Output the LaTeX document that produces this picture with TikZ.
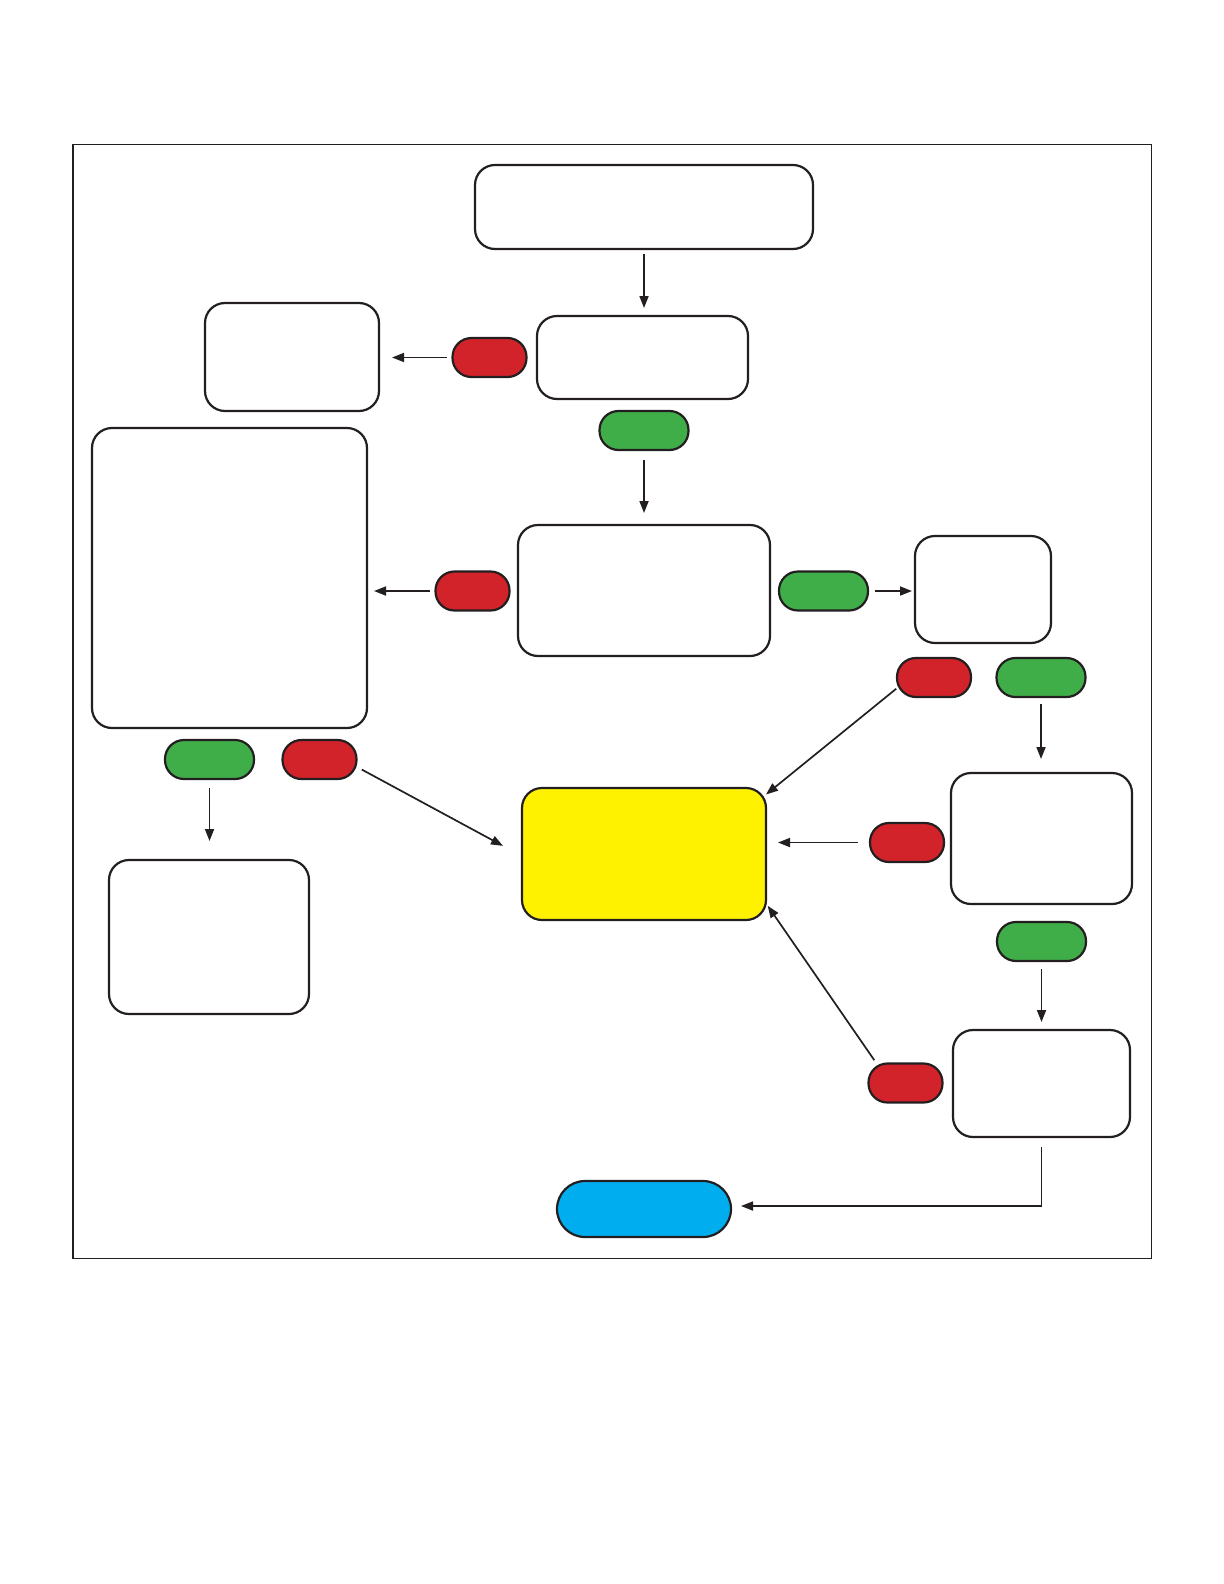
\documentclass[tikz,border=0pt]{standalone}
\usetikzlibrary{arrows.meta}
\definecolor{ink}{HTML}{231F20}
\definecolor{pred}{HTML}{D2232A}
\definecolor{pgreen}{HTML}{3FAE49}
\definecolor{pyellow}{HTML}{FFF200}
\definecolor{pblue}{HTML}{00AEEF}
\tikzset{
  base/.style={draw=ink, line width=1.1pt, inner sep=0pt, outer sep=0pt},
  box/.style={base, fill=white, rounded corners=10pt},
  pill/.style={base, rounded corners=9.5pt, minimum height=19.5pt},
  nopill/.style={pill, fill=pred, minimum width=37pt},
  yespill/.style={pill, fill=pgreen, minimum width=44.5pt},
  arr/.style={draw=ink, line width=0.85pt, -{Triangle[length=6pt,width=4.5pt]}},
}
\begin{document}
\begin{tikzpicture}[x=0.5pt,y=-0.5pt]
\useasboundingbox (0,0) rectangle (1224,1584);
\draw[ink, line width=0.8pt] (72.7,144.4) rectangle (1151.4,1258.5);

% boxes
\node[box, minimum width=169pt, minimum height=42pt] (top) at (644,207) {};
\node[box, minimum width=105.5pt, minimum height=41.5pt] (dec1) at (642.5,357.5) {};
\node[box, minimum width=87pt, minimum height=54pt] (lt) at (292,357) {};
\node[box, minimum width=126pt, minimum height=65.5pt] (dec2) at (644,590.5) {};
\node[box, minimum width=137.5pt, minimum height=150pt] (big) at (229.5,578) {};
\node[box, minimum width=68pt, minimum height=53.5pt] (rb1) at (983,589.5) {};
\node[box, fill=pyellow, minimum width=122pt, minimum height=66pt] (yel) at (644,854) {};
\node[box, minimum width=90.5pt, minimum height=65.5pt] (rb2) at (1041.5,838.5) {};
\node[box, minimum width=88.5pt, minimum height=53.5pt] (rb3) at (1041.5,1083.5) {};
\node[box, minimum width=100pt, minimum height=77pt] (bl) at (209,937) {};
\node[base, fill=pblue, rounded corners=14pt, minimum width=87pt, minimum height=28pt] (end) at (644,1209) {};

% pills
\node[nopill] (r1) at (489.5,357.5) {};
\node[yespill] (g1) at (644,430.5) {};
\node[nopill] (r2) at (472.5,591) {};
\node[yespill] (g2) at (823.5,591) {};
\node[nopill] (r3) at (934,677.5) {};
\node[yespill] (g3) at (1041,677.5) {};
\node[yespill] (g4) at (209.5,759.5) {};
\node[nopill] (r4) at (319.5,759.5) {};
\node[nopill] (r5) at (907,842.5) {};
\node[yespill] (g5) at (1041.5,941.5) {};
\node[nopill] (r6) at (905.5,1083) {};

% connectors
\draw[arr, shorten <=2.5pt, shorten >=4pt] (top.south) -- (top.south |- dec1.north);
\draw[arr, shorten <=3pt, shorten >=6.5pt] (r1.west) -- (r1.west -| lt.east);
\draw[arr, shorten <=5pt, shorten >=6pt] (g1.south) -- (dec2.north);
\draw[arr, shorten <=3pt, shorten >=3.5pt] (r2.west) -- (r2.west -| big.east);
\draw[arr, shorten <=3.5pt, shorten >=1.5pt] (g2.east) -- (g2.east -| rb1.west);
\draw[arr, shorten <=0.5pt] (r3.196) -- (yel.26);
\draw[arr, shorten <=3.5pt, shorten >=7pt] (g3.south) -- (g3.south |- rb2.north);
\draw[arr, shorten <=6pt, shorten >=6pt] (r5.west) -- (r5.west -| yel.east);
\draw[arr, shorten <=4pt, shorten >=4pt] (g5.south) -- (rb3.north);
\draw[arr, shorten <=2pt, shorten >=1.5pt] (r6.146) -- (yel.-22);
\draw[arr, shorten <=4.5pt, shorten >=9.5pt] (g4.south) -- (g4.south |- bl.north);
\draw[arr, shorten <=3pt, shorten >=10.8pt] (r4.-11) -- (yel.181);
\draw[arr, shorten <=5pt, shorten >=5pt] (rb3.south) |- ([yshift=1.5pt]end.east);
\end{tikzpicture}
\end{document}
